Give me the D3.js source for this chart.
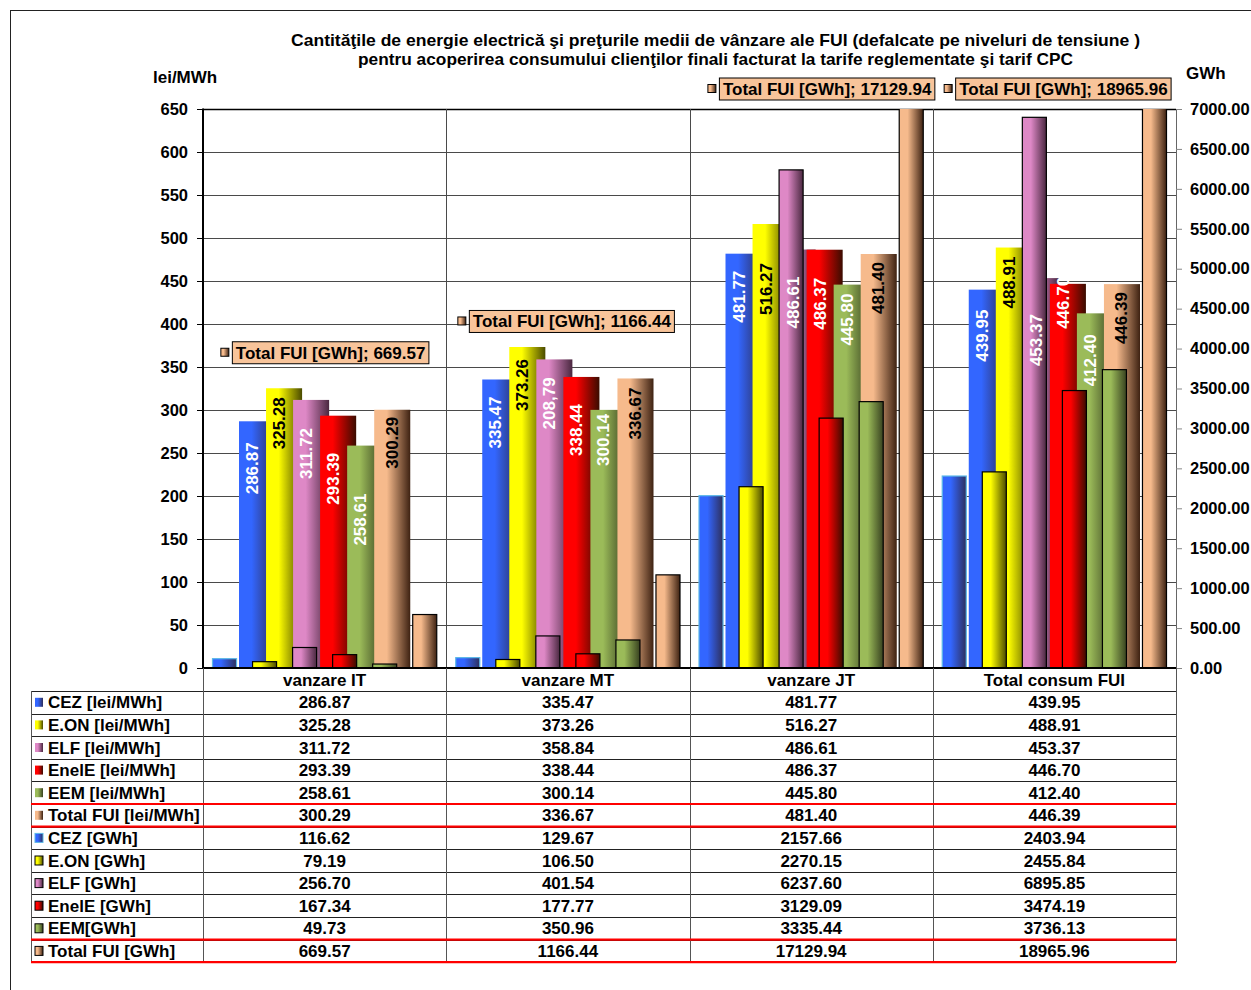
<!DOCTYPE html>
<html>
<head>
<meta charset="utf-8">
<script src="https://cdn.jsdelivr.net/npm/d3@7"></script>
<style>
  html, body { margin: 0; padding: 0; background: #fff; }
  svg { display: block; font-family: "Liberation Sans", Arial, sans-serif; font-weight: bold; }
</style>
</head>
<body>
<svg id="chart" width="1251" height="990"></svg>
<script>
// ---------------- DATA ----------------
const categories = ["vanzare IT", "vanzare MT", "vanzare JT", "Total consum FUI"];
const priceNames = ["CEZ [lei/MWh]", "E.ON [lei/MWh]", "ELF [lei/MWh]", "EnelE [lei/MWh]", "EEM [lei/MWh]", "Total FUI [lei/MWh]"];
const gwhNames   = ["CEZ [GWh]", "E.ON [GWh]", "ELF [GWh]", "EnelE [GWh]", "EEM[GWh]", "Total FUI [GWh]"];

const cezPrice   = [286.87, 335.47, 481.77, 439.95];
const eonPrice   = [325.28, 373.26, 516.27, 488.91];
const elfPrice   = [311.72, 358.84, 486.61, 453.37];
const enelPrice  = [293.39, 338.44, 486.37, 446.70];
const eemPrice   = [258.61, 300.14, 445.80, 412.40];
const totalPrice = [300.29, 336.67, 481.40, 446.39];

const cezGWh   = [116.62, 129.67, 2157.66, 2403.94];
const eonGWh   = [79.19, 106.50, 2270.15, 2455.84];
const elfGWh   = [256.70, 401.54, 6237.60, 6895.85];
const enelGWh  = [167.34, 177.77, 3129.09, 3474.19];
const eemGWh   = [49.73, 350.96, 3335.44, 3736.13];
const totalGWh = [669.57, 1166.44, 17129.94, 18965.96];

// data labels as printed on the price bars (ELF MT label differs in the original)
const elfPriceLabels = ["311.72", "208,79", "486.61", "453.37"];

const leftTicks  = [0, 50, 100, 150, 200, 250, 300, 350, 400, 450, 500, 550, 600, 650];
const rightTicks = [0, 500, 1000, 1500, 2000, 2500, 3000, 3500, 4000, 4500, 5000, 5500, 6000, 6500, 7000];

const priceValues = [cezPrice, eonPrice, elfPrice, enelPrice, eemPrice, totalPrice];
const gwhValues   = [cezGWh, eonGWh, elfGWh, enelGWh, eemGWh, totalGWh];
const priceLabelText = [
  cezPrice.map(v => v.toFixed(2)), eonPrice.map(v => v.toFixed(2)), elfPriceLabels,
  enelPrice.map(v => v.toFixed(2)), eemPrice.map(v => v.toFixed(2)), totalPrice.map(v => v.toFixed(2))
];

// ---------------- STYLE / LAYOUT ----------------
const colLight = ["#3366FF", "#FFFF00", "#DE88C6", "#FF0000", "#9BBB59", "#F6BA8C"];
const colDark  = ["#2E2F5C", "#4A4A00", "#4A2840", "#3A0C00", "#384220", "#3E2212"];
const labelColor = ["#fff", "#000", "#fff", "#fff", "#fff", "#000"];
const gwhStroke = ["#5BB8E8", "#000", "#000", "#000", "#000", "#000"];
// manual nudges of the rotated price labels (px below bar top), per category, per series
const priceLabelDrop = [
  [21, 9, 28, 37, 48, 7],
  [17, 12, 18, 27, 4, 9],
  [17, 39, 27, 28, 9, 8],
  [20, 9, 36, -7, 21, 8]
];
const totalBoxDx = [6, 4, 16, 9];

const P = { left: 203, right: 1176, top: 109, bottom: 668 };
const svg = d3.select("#chart");
const defs = svg.append("defs");

colLight.forEach((c, i) => {
  const g = defs.append("linearGradient").attr("id", "grad" + i)
    .attr("x1", "0%").attr("x2", "100%").attr("y1", "0%").attr("y2", "0%");
  g.append("stop").attr("offset", "0%").attr("stop-color", c);
  g.append("stop").attr("offset", "35%").attr("stop-color", c);
  g.append("stop").attr("offset", "100%").attr("stop-color", colDark[i]);
});
defs.append("clipPath").attr("id", "plotClip").append("rect")
  .attr("x", P.left).attr("y", P.top).attr("width", P.right - P.left).attr("height", P.bottom - P.top);

// outer chart border
svg.append("rect").attr("x", 10.5).attr("y", 10.5).attr("width", 1400).attr("height", 1200)
  .attr("fill", "none").attr("stroke", "#222").attr("stroke-width", 1);

// scales
const x0 = d3.scaleBand().domain(categories).range([P.left, P.right]).padding(0);
const yL = d3.scaleLinear().domain([0, 650]).range([P.bottom, P.top]);
const yR = d3.scaleLinear().domain([0, 7000]).range([P.bottom, P.top]);
const bw = x0.bandwidth();
const gapP = bw * 0.148;
const stepP = (bw - 2 * gapP) / (5 + 4 / 3);
const xP = d3.scaleBand().domain(d3.range(6)).range([gapP, gapP + 6 * stepP]).padding(0);
const wP = stepP * 4 / 3;
const gapW = bw * 0.037;
const xW = d3.scaleBand().domain(d3.range(6)).range([gapW, bw - gapW]).paddingInner(0.375).paddingOuter(0);

// title
const title = svg.append("g").attr("font-size", 16.5).attr("fill", "#000")
  .style("font-family", "'Liberation Sans Narrow', 'Arial Narrow', 'Liberation Sans', sans-serif");
title.append("text").attr("x", 291).attr("y", 46).attr("textLength", 849).attr("lengthAdjust", "spacingAndGlyphs")
  .text("Cantităţile de energie  electrică  şi preţurile medii  de vânzare  ale FUI (defalcate  pe  niveluri de tensiune )");
title.append("text").attr("x", 358).attr("y", 65).attr("textLength", 715).attr("lengthAdjust", "spacingAndGlyphs")
  .text("pentru  acoperirea consumului clienţilor finali  facturat  la tarife reglementate şi tarif CPC");

svg.append("text").attr("x", 153).attr("y", 83).attr("font-size", 17).text("lei/MWh");
svg.append("text").attr("x", 1186).attr("y", 79).attr("font-size", 17).text("GWh");

// gridlines
svg.append("g").selectAll("line").data(leftTicks.filter(d => d > 0)).join("line")
  .attr("x1", P.left).attr("x2", P.right).attr("y1", d => Math.round(yL(d)) + 0.5).attr("y2", d => Math.round(yL(d)) + 0.5)
  .attr("stroke", d => d === 650 ? "#000" : "#4a4a4a").attr("stroke-width", d => d === 650 ? 1.5 : 1);
svg.append("g").selectAll("line").data(categories.slice(1)).join("line")
  .attr("x1", d => Math.round(x0(d)) + 0.5).attr("x2", d => Math.round(x0(d)) + 0.5)
  .attr("y1", P.top).attr("y2", P.bottom).attr("stroke", "#4a4a4a");
svg.append("line").attr("x1", P.right + 0.5).attr("x2", P.right + 0.5).attr("y1", P.top).attr("y2", P.bottom)
  .attr("stroke", "#666");

// price bars (primary axis)
const gBars = svg.append("g").attr("clip-path", "url(#plotClip)");
priceValues.forEach((vals, s) => {
  gBars.append("g").selectAll("rect").data(vals).join("rect")
    .attr("x", (d, c) => x0(categories[c]) + xP(s))
    .attr("width", wP)
    .attr("y", d => yL(d))
    .attr("height", d => yL(0) - yL(d))
    .attr("fill", `url(#grad${s})`);
});
// GWh bars (secondary axis)
gwhValues.forEach((vals, s) => {
  gBars.append("g").selectAll("rect").data(vals).join("rect")
    .attr("x", (d, c) => x0(categories[c]) + xW(s) + 0.5)
    .attr("width", xW.bandwidth() - 1)
    .attr("y", d => Math.max(yR(d), P.top - 5))
    .attr("height", d => yR(0) - Math.max(yR(d), P.top - 5))
    .attr("fill", `url(#grad${s})`)
    .attr("stroke", gwhStroke[s]).attr("stroke-width", 1.2);
});

// axes
const axL = svg.append("g").attr("transform", `translate(${P.left},0)`)
  .call(d3.axisLeft(yL).tickValues(leftTicks).tickSize(6).tickSizeOuter(0).tickPadding(9).tickFormat(d3.format("d")));
axL.select(".domain").remove();
axL.selectAll("line").attr("stroke", "#000");
axL.selectAll("text").attr("font-size", 16.5).attr("font-family", "'Liberation Sans', Arial, sans-serif").attr("fill", "#000");
svg.append("line").attr("x1", P.left).attr("x2", P.left).attr("y1", P.top - 0.5).attr("y2", P.bottom + 1)
  .attr("stroke", "#000").attr("stroke-width", 2);
svg.append("line").attr("x1", P.left).attr("x2", P.right).attr("y1", P.bottom).attr("y2", P.bottom)
  .attr("stroke", "#000").attr("stroke-width", 2);

const axR = svg.append("g").attr("transform", `translate(${P.right},0)`)
  .call(d3.axisRight(yR).tickValues(rightTicks).tickSize(6).tickSizeOuter(0).tickPadding(8).tickFormat(d3.format(".2f")));
axR.select(".domain").remove();
axR.selectAll("line").attr("stroke", "#888");
axR.selectAll("text").attr("font-size", 16.5).attr("font-family", "'Liberation Sans', Arial, sans-serif").attr("fill", "#000");

// price data labels (rotated)
priceValues.forEach((vals, s) => {
  svg.append("g").selectAll("text").data(vals).join("text")
    .attr("transform", (d, c) => {
      const bx = x0(categories[c]) + xP(s);
      const cx = s < 5 ? bx + stepP / 2 : bx + wP / 2;
      return `translate(${cx},${yL(d) + priceLabelDrop[c][s]}) rotate(-90)`;
    })
    .attr("text-anchor", "end").attr("dominant-baseline", "central")
    .attr("font-size", 17).attr("fill", labelColor[s])
    .text((d, c) => priceLabelText[s][c]);
});

// Total FUI [GWh] label boxes
totalGWh.forEach((v, c) => {
  const cx = x0(categories[c]) + bw / 2 + totalBoxDx[c];
  const cy = v > 7000 ? P.top - 20 : yL(totalPrice[c]) - 57;
  const g = svg.append("g");
  const t = g.append("text").attr("font-size", 17).attr("text-anchor", "middle")
    .attr("x", cx).attr("y", cy + 6).text(`Total FUI [GWh]; ${v.toFixed(2)}`);
  const tw = t.node().getComputedTextLength();
  g.insert("rect", "text").attr("x", cx - tw / 2 - 3.5).attr("y", cy - 11).attr("width", tw + 7).attr("height", 22)
    .attr("fill", "#F8C49A").attr("stroke", "#000").attr("stroke-width", 1);
  g.insert("rect", "text").attr("x", cx - tw / 2 - 15).attr("y", cy - 4.5).attr("width", 8).attr("height", 8)
    .attr("fill", "url(#grad5)").attr("stroke", "#000").attr("stroke-width", 1);
});

// ---------------- DATA TABLE ----------------
const T = { left: 31, top: 691, rowH: 22.6 };
const rows = [];
priceNames.forEach((n, s) => rows.push({ name: n, vals: priceValues[s], s, gwh: false }));
gwhNames.forEach((n, s) => rows.push({ name: n, vals: gwhValues[s], s, gwh: true }));
const tBottom = T.top + rows.length * T.rowH;
const tab = svg.append("g");

// header labels
tab.selectAll("text.hdr").data(categories).join("text").attr("class", "hdr")
  .attr("x", d => x0(d) + bw / 2).attr("y", P.bottom + 18).attr("text-anchor", "middle").attr("font-size", 17)
  .text(d => d);

// horizontal lines
d3.range(rows.length + 1).forEach(i => {
  const y = Math.round(T.top + i * T.rowH) + 0.5;
  tab.append("line").attr("x1", T.left).attr("x2", P.right).attr("y1", y).attr("y2", y).attr("stroke", "#222");
});
// vertical lines
tab.append("line").attr("x1", T.left + 0.5).attr("x2", T.left + 0.5).attr("y1", T.top).attr("y2", tBottom).attr("stroke", "#555");
[...categories.map(d => x0(d)), P.right].forEach(x => {
  tab.append("line").attr("x1", Math.round(x) + 0.5).attr("x2", Math.round(x) + 0.5)
    .attr("y1", P.bottom).attr("y2", tBottom).attr("stroke", "#555");
});

rows.forEach((r, i) => {
  const yc = T.top + (i + 0.5) * T.rowH;
  tab.append("rect").attr("x", 35).attr("y", yc - 4.5).attr("width", 8).attr("height", 9)
    .attr("fill", `url(#grad${r.s})`)
    .attr("stroke", r.gwh ? gwhStroke[r.s] : "none").attr("stroke-width", 1);
  tab.append("text").attr("x", 48).attr("y", yc + 6).attr("font-size", 17).text(r.name);
  r.vals.forEach((v, c) => {
    tab.append("text").attr("x", x0(categories[c]) + bw / 2).attr("y", yc + 6)
      .attr("text-anchor", "middle").attr("font-size", 17).text(v.toFixed(2));
  });
});

// red highlight lines around the totals rows
[5, 6, 11, 12].forEach(i => {
  const y = T.top + i * T.rowH;
  tab.append("line").attr("x1", T.left).attr("x2", P.right).attr("y1", y).attr("y2", y)
    .attr("stroke", "#FF0000").attr("stroke-width", 2.2);
});
</script>
</body>
</html>
